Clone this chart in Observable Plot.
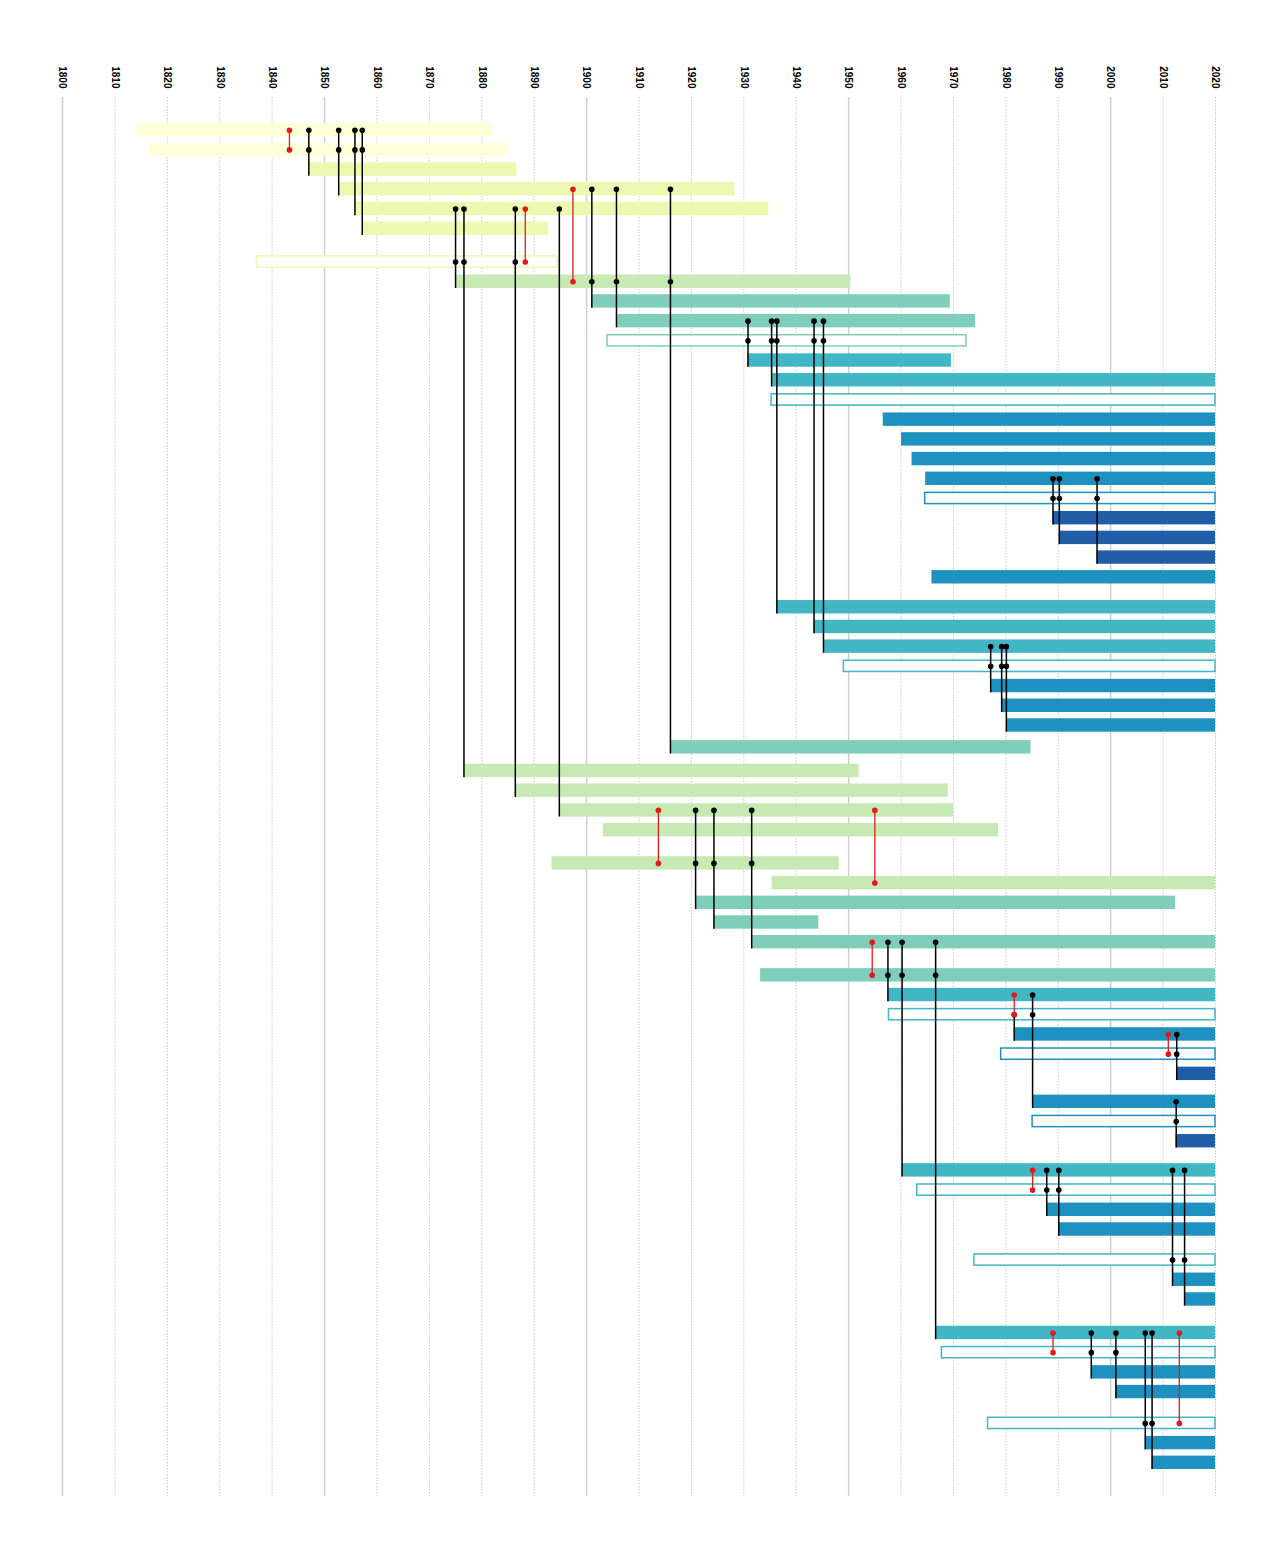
<!DOCTYPE html>
<html>
<head>
<meta charset="utf-8">
<script src="https://cdn.jsdelivr.net/npm/d3@7"></script>
<script src="https://cdn.jsdelivr.net/npm/@observablehq/plot@0.6"></script>
<style>
  html, body { margin: 0; padding: 0; background: #fff; }
  #chart { width: 1280px; }
</style>
</head>
<body>
<div id="chart"></div>
<script>
// ---- Data ----
// Row start / end years (rows listed top to bottom, ids 1..63)
const rowStart = [1814, 1816.7, 1847, 1852.7, 1855.8, 1857.2, 1837.1, 1875, 1901, 1905.7,
  1904, 1930.8, 1935.3, 1935.3, 1956.6, 1960.1, 1962.1, 1964.7, 1964.6, 1989,
  1990.2, 1997.4, 1965.9, 1936.3, 1943.4, 1945.2, 1949.1, 1977.1, 1979.2, 1980.1,
  1916, 1876.6, 1886.4, 1894.8, 1903.2, 1893.4, 1935.4, 1920.8, 1924.3, 1931.5,
  1933.2, 1957.5, 1957.7, 1981.6, 1979.1, 2012.6, 1985.1, 1985.1, 2012.5, 1960.2,
  1963.1, 1987.8, 1990.1, 1974, 2011.8, 2014.1, 1966.6, 1967.8, 1996.3, 2001,
  1976.6, 2006.6, 2007.9];
const rowEnd = [1882, 1884.9, 1886.7, 1928.3, 1934.8, 1892.7, 1894.5, 1950.4, 1969.4, 1974.2,
  1972.5, 1969.6, 2020, 2020, 2020, 2020, 2020, 2020, 2020, 2020,
  2020, 2020, 2020, 2020, 2020, 2020, 2020, 2020, 2020, 2020,
  1984.8, 1952, 1969, 1970, 1978.6, 1948.2, 2020, 2012.4, 1944.3, 2020,
  2020, 2020, 2020, 2020, 2020, 2020, 2020, 2020, 2020, 2020,
  2020, 2020, 2020, 2020, 2020, 2020, 2020, 2020, 2020, 2020,
  2020, 2020, 2020];
// Generation of each row (drives the colour)
const rowGen = [0, 0, 1, 1, 1, 1, 1, 2, 3, 3,
  3, 4, 4, 4, 5, 5, 5, 5, 5, 6,
  6, 6, 5, 4, 4, 4, 4, 5, 5, 5,
  3, 2, 2, 2, 2, 2, 2, 3, 3, 3,
  3, 4, 4, 5, 5, 6, 5, 5, 6, 4,
  4, 5, 5, 4, 5, 5, 4, 4, 5, 5,
  4, 5, 5];
// Rows drawn as hollow (outlined) bars
const outlineRows = [7, 11, 14, 19, 27, 43, 45, 48, 51, 54, 58, 61];
// Extra spacing (in rows) inserted before a row
const groupGapRows = [7, 24, 31, 32, 36, 41, 47, 50, 54, 57, 61];
const groupGapSize = [0.69, 0.52, 0.11, 0.2, 0.69, 0.68, 0.42, 0.48, 0.55, 0.7, 0.59];

// Descent links: [year, rows with a dot, child row]
const blackLinks = [
  [1847, [1, 2], 3], [1852.7, [1, 2], 4], [1855.8, [1, 2], 5], [1857.2, [1, 2], 6],
  [1875, [5, 7], 8], [1876.6, [5, 7], 32], [1886.4, [5, 7], 33], [1894.8, [5], 34],
  [1901, [4, 8], 9], [1905.7, [4, 8], 10], [1916, [4, 8], 31],
  [1930.8, [10, 11], 12], [1935.3, [10, 11], 13], [1936.3, [10, 11], 24],
  [1943.4, [10, 11], 25], [1945.2, [10, 11], 26],
  [1989, [18, 19], 20], [1990.2, [18, 19], 21], [1997.4, [18, 19], 22],
  [1977.1, [26, 27], 28], [1979.2, [26, 27], 29], [1980.1, [26, 27], 30],
  [1920.8, [34, 36], 38], [1924.3, [34, 36], 39], [1931.5, [34, 36], 40],
  [1957.5, [40, 41], 42], [1960.2, [40, 41], 50], [1966.6, [40, 41], 57],
  [1981.6, [43], 44], [1985.1, [42, 43], 47], [2012.6, [44, 45], 46], [2012.5, [47, 48], 49],
  [1987.8, [50, 51], 52], [1990.1, [50, 51], 53], [2011.8, [50, 54], 55], [2014.1, [50, 54], 56],
  [1996.3, [57, 58], 59], [2001, [57, 58], 60], [2006.6, [57, 61], 62], [2007.9, [57, 61], 63]
];
// Red links between two existing rows: [year, from row, to row]
const redLinks = [
  [1843.3, 1, 2], [1888.3, 5, 7], [1897.4, 4, 8], [1913.7, 34, 36], [1955, 34, 37],
  [1954.5, 40, 41], [1981.6, 42, 43], [2011, 44, 45], [1985.1, 50, 51],
  [1989, 57, 58], [2013.1, 57, 61]
];
const tickYears = d3.range(1800, 2021, 10);
const majorYears = tickYears.filter(y => y % 50 === 0);
const minorYears = tickYears.filter(y => y % 50 !== 0);

// ---- Build tables ----
const slotOf = [];
let acc = 0;
for (let i = 1; i <= rowStart.length; i++) {
  const g = groupGapRows.indexOf(i);
  if (g >= 0) acc += groupGapSize[g];
  slotOf[i] = (i - 1) + acc;
}
const rows = rowStart.map((s, i) => ({
  id: i + 1, start: s, end: rowEnd[i], gen: rowGen[i],
  outline: outlineRows.includes(i + 1), slot: slotOf[i + 1]
}));
const filled = rows.filter(d => !d.outline);
const hollow = rows.filter(d => d.outline);
const H = 0.34;   // half bar thickness in row units
const HO = 0.285; // half thickness of outlined bars

const blackLines = blackLinks.map(([year, dots, child]) => ({
  year, top: Math.min(...dots.map(r => slotOf[r])), bottom: slotOf[child] + H
}));
const blackDots = blackLinks.flatMap(([year, dots]) => dots.map(r => ({year, slot: slotOf[r]})));
const redLines = redLinks.map(([year, a, b]) => ({year, top: slotOf[a], bottom: slotOf[b]}));
const redDots = redLinks.flatMap(([year, a, b]) => [{year, slot: slotOf[a]}, {year, slot: slotOf[b]}]);

const lastSlot = slotOf[rowStart.length];
const palette = d3.schemeYlGnBu[9].slice(0, 7);

const chart = Plot.plot({
  width: 1280,
  height: 1555,
  marginTop: 97,
  marginBottom: 59,
  marginLeft: 62,
  marginRight: 65,
  style: {background: "#fff", fontFamily: "'Liberation Sans', Arial, sans-serif"},
  x: {domain: [1800, 2020]},
  y: {domain: [-1.66, lastSlot + 1.71], reverse: true, axis: null},
  color: {type: "ordinal", domain: d3.range(7), range: palette},
  marks: [
    Plot.ruleX(minorYears, {stroke: "#c8c8c8", strokeWidth: 1, strokeDasharray: "1.5,1.5"}),
    Plot.ruleX(majorYears, {stroke: "#d0d0d0", strokeWidth: 1.5}),
    Plot.rect(filled, {x1: "start", x2: "end", y1: d => d.slot - H, y2: d => d.slot + H, fill: "gen"}),
    Plot.rect(hollow, {x1: "start", x2: "end", y1: d => d.slot - HO, y2: d => d.slot + HO,
      fill: "white", stroke: "gen", strokeWidth: 1.5}),
    Plot.ruleX(blackLines, {x: "year", y1: "top", y2: "bottom", stroke: "black", strokeWidth: 1.5}),
    Plot.ruleX(redLines, {x: "year", y1: "top", y2: "bottom", stroke: "#e31a1c", strokeWidth: 1.3}),
    Plot.dot(blackDots, {x: "year", y: "slot", r: 2.8, fill: "black"}),
    Plot.dot(redDots, {x: "year", y: "slot", r: 2.8, fill: "#e31a1c"}),
    Plot.axisX(tickYears, {anchor: "top", tickFormat: d => String(d), tickRotate: 90,
      tickSize: 0, tickPadding: 9, fontSize: 10, fontWeight: "bold", fill: "black"})
  ]
});
document.getElementById("chart").append(chart);
</script>
</body>
</html>
